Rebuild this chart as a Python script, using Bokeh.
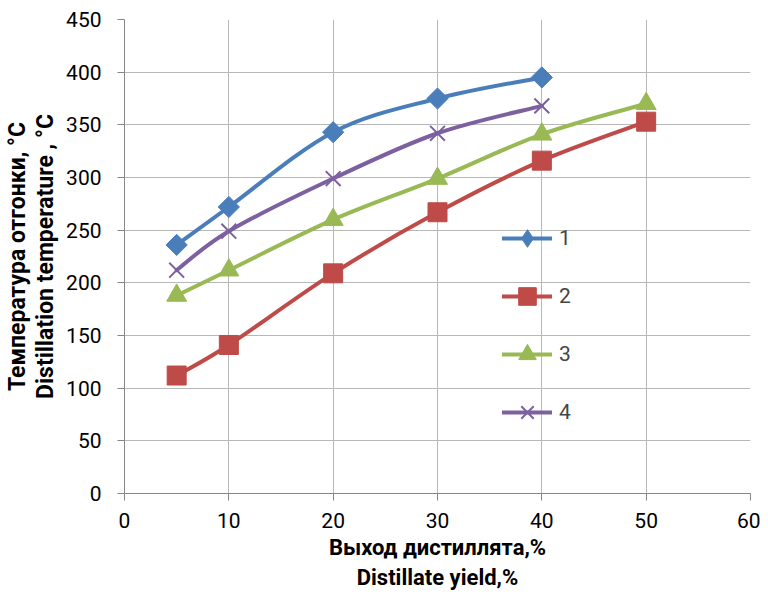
from bokeh.plotting import figure
from bokeh.models import Legend, LegendItem, ColumnDataSource, FixedTicker
from bokeh.embed import file_html
from bokeh.resources import INLINE
import math

# ---- data ----
x1 = [5, 10, 20, 30, 40]
y1 = [236, 272, 343, 375, 395]
x2 = [5, 10, 20, 30, 40, 50]
y2 = [112, 141, 209, 267, 316, 353]
x3 = [5, 10, 20, 30, 40, 50]
y3 = [188, 212, 260, 299, 341, 370]
x4 = [5, 10, 20, 30, 40]
y4 = [212, 249, 299, 342, 368]
labels = ["1", "2", "3", "4"]
x_ticks = [0, 10, 20, 30, 40, 50, 60]
y_ticks = [0, 50, 100, 150, 200, 250, 300, 350, 400, 450]

colors = ["#4a7ebb", "#be4b48", "#98b954", "#7d60a0"]

FONT = "Roboto"

p = figure(width=760, height=592, x_range=(0, 60), y_range=(0, 450),
           output_backend="svg", toolbar_location=None,
           min_border_left=123, min_border_right=10, min_border_top=19, min_border_bottom=99)
p.outline_line_color = None
p.background_fill_color = "white"
p.border_fill_color = "white"

for ax in (p.xaxis[0], p.yaxis[0]):
    ax.axis_line_color = "#868686"
    ax.major_tick_line_color = "#868686"
    ax.minor_tick_line_color = None
    ax.major_tick_in = 0
    ax.major_tick_out = 7
    ax.major_label_text_font = FONT
    ax.major_label_text_font_size = "21px"
    ax.major_label_text_color = "#000000"
    ax.axis_label_text_font = FONT
    ax.axis_label_text_font_style = "bold"
    ax.axis_label_text_color = "#000000"

p.xaxis.axis_label_text_font_size = "22px"
p.xaxis.axis_label_text_line_height = 1.2
p.yaxis.axis_label_text_font_size = "23px"
p.yaxis.axis_label_text_line_height = 1.05

p.xaxis.ticker = FixedTicker(ticks=x_ticks)
p.yaxis.ticker = FixedTicker(ticks=y_ticks)
p.xaxis.major_label_standoff = 12
p.yaxis.major_label_standoff = 16
p.xaxis.axis_label = "Выход дистиллята,%\nDistillate yield,%"
p.yaxis.axis_label = "Температура отгонки, °C\nDistillation temperature , °C"
p.xaxis.axis_label_standoff = 4
p.yaxis.axis_label_standoff = 4

p.xgrid.grid_line_color = "#b8b8b8"
p.ygrid.grid_line_color = "#b8b8b8"
p.xgrid.grid_line_width = 1
p.ygrid.grid_line_width = 1


def smooth_segments(xs, ys):
    n = len(xs)
    seg = dict(x0=[], y0=[], x1=[], y1=[], cx0=[], cy0=[], cx1=[], cy1=[])
    for i in range(n - 1):
        im1 = max(i - 1, 0)
        ip2 = min(i + 2, n - 1)
        seg["x0"].append(xs[i]); seg["y0"].append(ys[i])
        seg["x1"].append(xs[i + 1]); seg["y1"].append(ys[i + 1])
        seg["cx0"].append(xs[i] + (xs[i + 1] - xs[im1]) / 6)
        seg["cy0"].append(ys[i] + (ys[i + 1] - ys[im1]) / 6)
        seg["cx1"].append(xs[i + 1] - (xs[ip2] - xs[i]) / 6)
        seg["cy1"].append(ys[i + 1] - (ys[ip2] - ys[i]) / 6)
    return seg


series = [(x1, y1), (x2, y2), (x3, y3), (x4, y4)]
items = []
for k, (xs, ys) in enumerate(series):
    c = colors[k]
    src = ColumnDataSource(smooth_segments(xs, ys))
    p.bezier(x0="x0", y0="y0", x1="x1", y1="y1", cx0="cx0", cy0="cy0",
             cx1="cx1", cy1="cy1", source=src, line_color=c, line_width=4,
             line_cap="round")
    # legend-only samples (NaN data: nothing drawn in the plot area)
    lr = p.line(x=[math.nan], y=[math.nan], line_color=c, line_width=4, line_cap="round")
    if k == 0:
        p.scatter(xs, ys, marker="square", angle=math.pi / 4, size=15,
                  fill_color=c, line_color=c)
        sr = p.scatter(x=[math.nan], y=[math.nan], marker="diamond", size=20,
                       fill_color=c, line_color=c)
    elif k == 1:
        sr = p.scatter(xs, ys, marker="square", size=19, fill_color=c, line_color=c)
    elif k == 2:
        sr = p.scatter(xs, ys, marker="triangle", size=20, fill_color=c, line_color=c)
    else:
        sr = p.scatter(xs, ys, marker="x", size=21, line_color=c, line_width=2)
    items.append(LegendItem(label=labels[k], renderers=[lr, sr]))

legend = Legend(items=items, location=(378, 59), orientation="vertical",
                glyph_width=50, glyph_height=44, spacing=14, padding=0, margin=0,
                label_standoff=7, label_text_font=FONT, label_text_font_size="21px",
                background_fill_alpha=0, border_line_color=None)
p.add_layout(legend)

open("out.html", "w").write(file_html(p, INLINE))
